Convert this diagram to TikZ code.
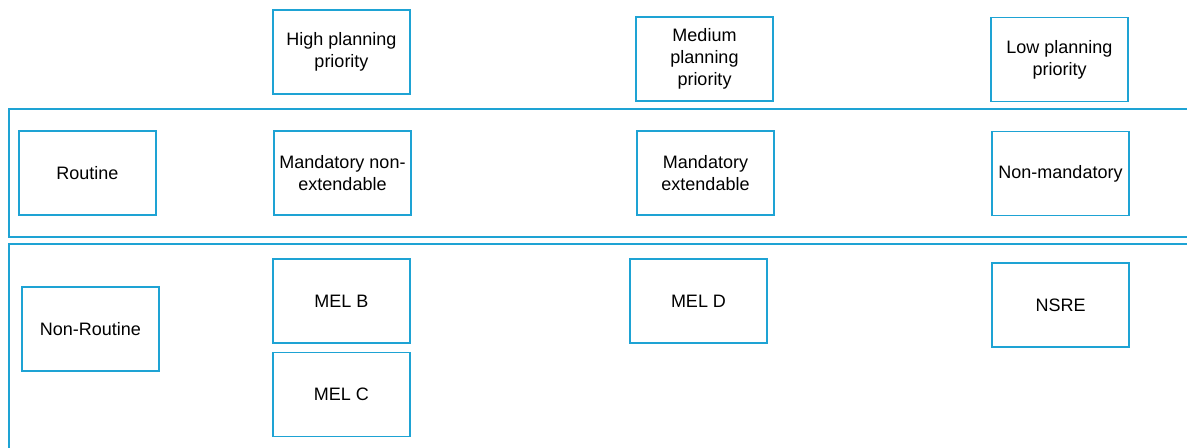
\documentclass[tikz,border=0pt]{standalone}
\usepackage{fontspec}
\setmainfont{Liberation Sans}
\begin{document}
\definecolor{frameblue}{RGB}{30,163,212}
\begin{tikzpicture}[x=1bp,y=-1bp,
  cell/.style={draw=frameblue,line width=1.5bp,fill=white,minimum width=137bp,minimum height=84bp,
    inner sep=0pt,align=center,font=\fontsize{18bp}{22bp}\selectfont,text=black},
  band/.style={draw=frameblue,line width=1.6bp}]
\useasboundingbox (0,0) rectangle (1187,448);
\begin{scope}
  \clip (0,0) rectangle (1187,448);
  % horizontal bands for the two task classes
  \draw[band] (1200,109) -- (9,109) -- (9,237) -- (1200,237);
  \draw[band] (1200,244) -- (9,244) -- (9,460);
\end{scope}
% planning priority headings
\node[cell] (high) at (341.5,52) {High planning\\priority};
\node[cell] (medium) at (704.5,59) {Medium\\planning\\priority};
\node[cell] (low) at (1059.5,59.5) {Low planning\\priority};
% routine row
\node[cell] (routine) at (87.5,173) {Routine};
\node[cell] (mandne) at (342.5,173) {Mandatory non-\\extendable};
\node[cell] (mande) at (705.5,173) {Mandatory\\extendable};
\node[cell] (nonmand) at (1060.5,173.5) {Non-mandatory};
% non-routine row
\node[cell] (nonroutine) at (90.5,329) {Non-Routine};
\node[cell] (melb) at (341.5,301) {MEL B};
\node[cell] (melc) at (341.5,394.5) {MEL C};
\node[cell] (meld) at (698.5,301) {MEL D};
\node[cell] (nsre) at (1060.5,305) {NSRE};
\end{tikzpicture}
\end{document}
